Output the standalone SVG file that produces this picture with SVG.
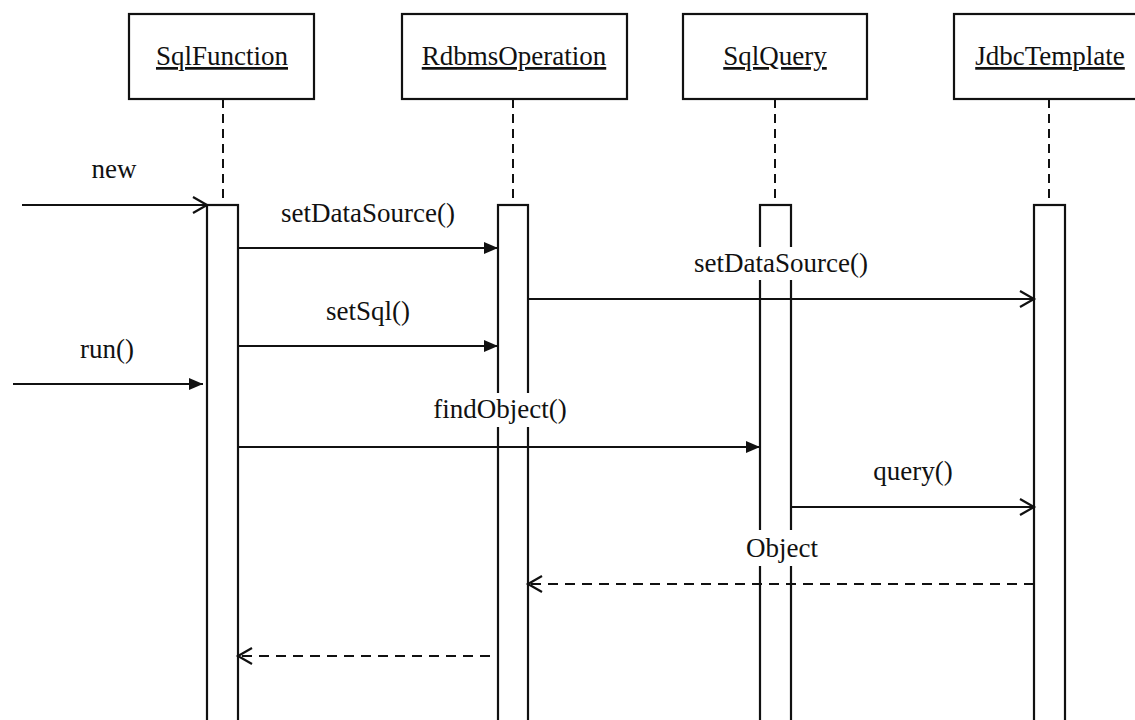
<svg xmlns="http://www.w3.org/2000/svg" width="1135" height="720" viewBox="0 0 1135 720">
<style>
  text { font-family: "Liberation Serif", "Times New Roman", serif; font-size: 27px; fill: #111; text-anchor: middle; }
  .hdr { text-decoration: underline; }
  .box { fill: #fff; stroke: #111; stroke-width: 2.2; }
  .life { stroke: #111; stroke-width: 2; stroke-dasharray: 9 6; fill: none; }
  .act { fill: none; stroke: #111; stroke-width: 2.2; }
  .msg { stroke: #111; stroke-width: 2.2; fill: none; }
  .ret { stroke: #111; stroke-width: 2.2; fill: none; stroke-dasharray: 10 7; }
  .bg { fill: #fff; stroke: none; }
</style>
<defs>
  <marker id="filled" markerUnits="userSpaceOnUse" viewBox="0 0 14 12" refX="14" refY="6" markerWidth="14" markerHeight="12" orient="auto">
    <path d="M0,0 L14,6 L0,12 Z" fill="#111"/>
  </marker>
  <marker id="open" markerUnits="userSpaceOnUse" viewBox="-2 -2 18 20" refX="14" refY="8" markerWidth="18" markerHeight="20" orient="auto" overflow="visible">
    <path d="M0,0 L14,8 L0,16" fill="none" stroke="#111" stroke-width="2.2"/>
  </marker>
</defs>
<rect x="0" y="0" width="1135" height="720" fill="#fff"/>

<g id="SqlFunction">
  <rect class="box" x="129" y="14" width="185" height="85"/>
  <text class="hdr" x="222" y="65">SqlFunction</text>
  <line class="life" x1="223" y1="99" x2="223" y2="205"/>
  <rect class="act" x="207" y="205" width="31" height="530"/>
</g>
<g id="RdbmsOperation">
  <rect class="box" x="402" y="14" width="225" height="85"/>
  <text class="hdr" x="514" y="65">RdbmsOperation</text>
  <line class="life" x1="513" y1="99" x2="513" y2="205"/>
  <rect class="act" x="498" y="205" width="30" height="530"/>
</g>
<g id="SqlQuery">
  <rect class="box" x="683" y="14" width="184" height="85"/>
  <text class="hdr" x="775" y="65">SqlQuery</text>
  <line class="life" x1="775" y1="99" x2="775" y2="205"/>
  <rect class="act" x="760" y="205" width="31" height="530"/>
</g>
<g id="JdbcTemplate">
  <rect class="box" x="954" y="14" width="200" height="85"/>
  <text class="hdr" x="1050" y="65">JdbcTemplate</text>
  <line class="life" x1="1049" y1="99" x2="1049" y2="205"/>
  <rect class="act" x="1034" y="205" width="31" height="530"/>
</g>

<g id="connectors">
  <line class="msg" x1="22" y1="205" x2="207" y2="205" marker-end="url(#open)"/>
  <text x="114" y="178">new</text>

  <line class="msg" x1="238" y1="248" x2="498" y2="248" marker-end="url(#filled)"/>
  <text x="368" y="222">setDataSource()</text>

  <line class="msg" x1="528" y1="299" x2="1034" y2="299" marker-end="url(#open)"/>
  <rect class="bg" x="692" y="247" width="178" height="33"/>
  <text x="781" y="272">setDataSource()</text>

  <line class="msg" x1="238" y1="346" x2="498" y2="346" marker-end="url(#filled)"/>
  <text x="368" y="320">setSql()</text>

  <line class="msg" x1="13" y1="384" x2="203" y2="384" marker-end="url(#filled)"/>
  <text x="107" y="358">run()</text>

  <line class="msg" x1="238" y1="447" x2="760" y2="447" marker-end="url(#filled)"/>
  <rect class="bg" x="432" y="393" width="136" height="34"/>
  <text x="500" y="418">findObject()</text>

  <line class="msg" x1="791" y1="507" x2="1034" y2="507" marker-end="url(#open)"/>
  <text x="913" y="480">query()</text>

  <line class="ret" x1="1034" y1="584" x2="528" y2="584" marker-end="url(#open)"/>
  <rect class="bg" x="744" y="530" width="76" height="36"/>
  <text x="782" y="557">Object</text>

  <line class="ret" x1="490" y1="656" x2="238" y2="656" marker-end="url(#open)"/>
</g>
</svg>
